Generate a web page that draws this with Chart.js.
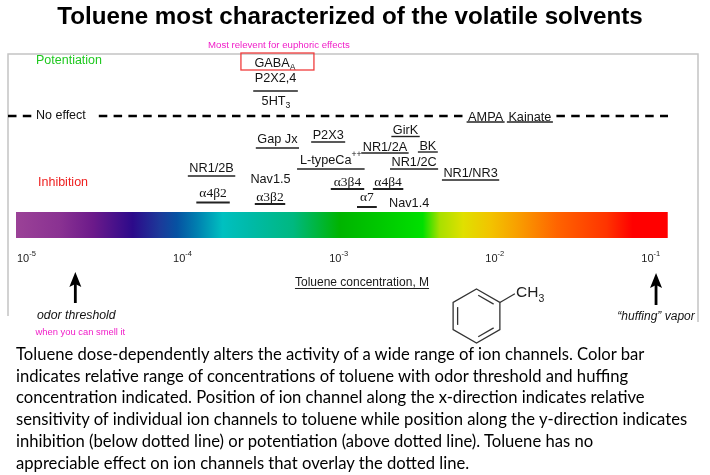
<!DOCTYPE html>
<html><head><meta charset="utf-8">
<script src="https://cdn.jsdelivr.net/npm/chart.js@4.4.0/dist/chart.umd.min.js"></script>
<style>
html,body{margin:0;padding:0;background:#fff;}
#wrap{position:relative;width:710px;height:475px;overflow:hidden;background:#fff;}
#c{position:absolute;left:0;top:0;}
#caption{position:absolute;left:16px;top:344px;white-space:nowrap;font-family:Lato,"Noto Sans",sans-serif;color:#000;}
</style></head>
<body>
<div id="wrap"><canvas id="c" width="710" height="475"></canvas><div id="caption"></div></div>
<script>
// ---------------- data ----------------
const chartTitle = 'Toluene most characterized of the volatile solvents';
const channelNames = ['GABA_A','P2X2,4','5HT_3','AMPA','Kainate','Gap Jx','P2X3','GirK','NR1/2A','BK',
  'L-typeCa^++','NR1/2C','NR1/NR3','NR1/2B','Nav1.5','α4β2','α3β2','α3β4','α4β4','α7','Nav1.4'];
// toluene concentration (M) at which each channel responds
const channelConcM = [4.56e-4,4.6e-4,4.63e-4,1.02e-2,1.96e-2,4.73e-4,1.0e-3,3.13e-3,2.31e-3,4.35e-3,
  1.04e-3,3.55e-3,8.17e-3,1.79e-4,4.27e-4,1.83e-4,4.24e-4,1.33e-3,2.42e-3,1.77e-3,3.30e-3];
// effect level: >0 potentiation, 0 no effect, <0 inhibition
const channelEffect = [5.3,3.8,1.5,-0.1,-0.1,-2.3,-1.9,-1.45,-3.1,-3.0,
  -4.4,-4.6,-5.75,-5.2,-6.3,-7.7,-8.1,-6.6,-6.6,-8.1,-8.75];
const channelUnderlined = [false,true,false,true,true,true,true,true,true,true,
  true,true,true,true,false,true,true,true,true,true,false];
const tickExponents = [-5,-4,-3,-2,-1];
const barRangeM = [1e-5, 0.15];
const barEffect = [-9.6, -12.2];
const odorThresholdM = 2.4e-5;
const huffingVaporM = 0.126;
const captionLines = [
  'Toluene dose-dependently alters the activity of a wide range of ion channels. Color bar',
  'indicates relative range of concentrations of toluene with odor threshold and huffing',
  'concentration indicated. Position of ion channel along the x-direction indicates relative',
  'sensitivity of individual ion channels to toluene while position along the y-direction indicates',
  'inhibition (below dotted line) or potentiation (above dotted line). Toluene has no',
  'appreciable effect on ion channels that overlay the dotted line.'
];

// ---------------- styles ----------------
const barStops = [[0,'#9b4297'],[0.067,'#8a3292'],[0.118,'#6c1a8a'],[0.179,'#2c0a8a'],[0.221,'#1c3a9a'],
  [0.247,'#0652a2'],[0.278,'#0080b0'],[0.317,'#00c0c0'],[0.359,'#00baa8'],[0.425,'#00b880'],
  [0.497,'#00b400'],[0.558,'#00c800'],[0.624,'#00e000'],[0.650,'#a8e000'],[0.686,'#e0e000'],
  [0.727,'#f2c400'],[0.768,'#f8a000'],[0.830,'#ff6400'],[0.906,'#ff3400'],[0.946,'#ff0000'],[1,'#ff0000']];
const SANS = '"Liberation Sans", Arial, sans-serif';
const SERIF = '"Liberation Serif", "Times New Roman", serif';
const underlineDrop = {'P2X2,4':13,'Gap Jx':9,'L-typeCa^++':9,'α4β2':9.5,'α7':10,'AMPA':5,'Kainate':5,'GirK':6,'NR1/2A':6,'BK':6,'NR1/NR3':6.5,'NR1/2B':8};
const underlineExt = {'L-typeCa^++':3,'α4β2':3,'α7':3,'α3β4':3};

// caption
(function(){
  const cap = document.getElementById('caption');
  const m = document.createElement('canvas').getContext('2d');
  m.font = '100px Lato';
  const w = m.measureText(captionLines[3]).width;
  const fs = 100 * 673 / w;
  cap.style.fontSize = fs.toFixed(2) + 'px';
  cap.style.lineHeight = '21.7px';
  cap.innerHTML = captionLines.map(l => '<div>' + l + '</div>').join('');
})();

function parseRich(s){
  const m = s.match(/^(.*?)([_^])(.+)$/);
  if (!m) return [{t:s,k:0}];
  return [{t:m[1],k:0},{t:m[3],k:m[2]==='_'?1:-1}];
}
function drawRich(ctx, s, x, y, family, size, align, style){
  const segs = parseRich(s);
  const pre = style ? style + ' ' : '';
  const fonts = segs.map(sg => pre + (sg.k ? size*0.68 : size) + 'px ' + family);
  const ws = segs.map((sg,i) => { ctx.font = fonts[i]; return ctx.measureText(sg.t).width; });
  const total = ws.reduce((a,b)=>a+b,0);
  let cur = align === 'center' ? x - total/2 : (align === 'right' ? x - total : x);
  const left = cur;
  ctx.textAlign = 'left';
  ctx.textBaseline = 'middle';
  segs.forEach((sg,i) => {
    ctx.font = fonts[i];
    const dy = sg.k === 1 ? size*0.38 : (sg.k === -1 ? -size*0.42 : 0);
    ctx.fillText(sg.t, cur, y + dy);
    cur += ws[i];
  });
  return {left, right: cur};
}

const annotations = {
  id: 'annotations',
  afterDatasetsDraw(chart){
    const ctx = chart.ctx, xs = chart.scales.x, ys = chart.scales.y;
    ctx.save();
    // frame
    ctx.strokeStyle = '#c4c4c4'; ctx.lineWidth = 1.5;
    ctx.beginPath();
    ctx.moveTo(8, 316); ctx.lineTo(8, 54); ctx.lineTo(698, 54); ctx.lineTo(698, 322);
    ctx.stroke();

    // side labels
    ctx.fillStyle = '#1fc81f';
    drawRich(ctx, 'Potentiation', 36, ys.getPixelForValue(5.5), SANS, 12.5, 'left');
    ctx.fillStyle = '#ee2020';
    drawRich(ctx, 'Inhibition', 38, ys.getPixelForValue(-6.7), SANS, 12.5, 'left');
    ctx.fillStyle = '#111';
    const y0 = ys.getPixelForValue(0);
    const ne = drawRich(ctx, 'No effect', 36, y0, SANS, 12.5, 'left');

    // channel labels
    const meta = chart.getDatasetMeta(1);
    const boxes = {};
    channelNames.forEach((name, i) => {
      const el = meta.data[i];
      const greek = /[αβ]/.test(name);
      ctx.fillStyle = '#141414';
      const r = drawRich(ctx, name, el.x, el.y, greek ? SERIF : SANS, greek ? 13.5 : 12.7, 'center');
      boxes[name] = {x: el.x, y: el.y, left: r.left, right: r.right};
      if (channelUnderlined[i]) {
        const d = underlineDrop[name] !== undefined ? underlineDrop[name] : 7;
        const e = underlineExt[name] !== undefined ? underlineExt[name] : 1.5;
        ctx.strokeStyle = '#222';
        ctx.lineWidth = greek ? 2 : 1.4;
        ctx.beginPath();
        ctx.moveTo(r.left - e, el.y + d); ctx.lineTo(r.right + e, el.y + d);
        ctx.stroke();
      }
    });

    // no-effect dashed line
    ctx.strokeStyle = '#000'; ctx.lineWidth = 2.6; ctx.setLineDash([8.5, 6.3]);
    const segs = [[8, ne.left - 3], [ne.right + 13, boxes['AMPA'].left - 3], [boxes['Kainate'].right + 5, 668]];
    segs.forEach(([a,b]) => { ctx.beginPath(); ctx.moveTo(a, y0); ctx.lineTo(b, y0); ctx.stroke(); });
    ctx.setLineDash([]);

    // GABA box + note
    const g = boxes['GABA_A'];
    ctx.strokeStyle = '#f03c3c'; ctx.lineWidth = 1.3;
    ctx.strokeRect(g.x - 34, g.y - 10, 73, 17);
    ctx.fillStyle = '#f01ec8';
    drawRich(ctx, 'Most relevent for euphoric effects', g.x + 4, g.y - 17.5, SANS, 9.6, 'center');

    // tick labels
    ctx.fillStyle = '#222';
    const ty = ys.bottom + 21;
    tickExponents.forEach(e => {
      const px = xs.getPixelForValue(Math.pow(10, e));
      ctx.font = '11px ' + SANS; ctx.textAlign = 'left'; ctx.textBaseline = 'middle';
      ctx.fillText('10', px + 1, ty);
      const w = ctx.measureText('10').width;
      ctx.font = '7.5px ' + SANS;
      ctx.fillText(String(e), px + 1 + w, ty - 5);
    });

    // axis title
    ctx.fillStyle = '#1a1a1a';
    const at = drawRich(ctx, 'Toluene concentration, M', 362, ys.bottom + 45, SANS, 12, 'center');
    ctx.strokeStyle = '#222'; ctx.lineWidth = 1.2;
    ctx.beginPath(); ctx.moveTo(at.left, ys.bottom + 50.5); ctx.lineTo(at.right, ys.bottom + 50.5); ctx.stroke();

    // arrows
    function arrow(x, yTop, yBot){
      ctx.strokeStyle = '#000'; ctx.fillStyle = '#000'; ctx.lineWidth = 2.8;
      ctx.beginPath(); ctx.moveTo(x, yBot); ctx.lineTo(x, yTop + 8); ctx.stroke();
      ctx.beginPath(); ctx.moveTo(x, yTop); ctx.lineTo(x - 6, yTop + 15); ctx.lineTo(x, yTop + 12); ctx.lineTo(x + 6, yTop + 15); ctx.closePath(); ctx.fill();
    }
    const ox = xs.getPixelForValue(odorThresholdM);
    const hx = xs.getPixelForValue(huffingVaporM);
    arrow(ox, ys.bottom + 34, ys.bottom + 65);
    arrow(hx, ys.bottom + 35, ys.bottom + 67);
    ctx.fillStyle = '#111';
    drawRich(ctx, 'odor threshold', ox + 1, ys.bottom + 78, SANS, 12.3, 'center', 'italic');
    drawRich(ctx, '\u201Chuffing\u201D vapor', hx, ys.bottom + 79, SANS, 12, 'center', 'italic');
    ctx.fillStyle = '#f01ec8';
    drawRich(ctx, 'when you can smell it', ox + 5, ys.bottom + 94, SANS, 9.4, 'center');

    // toluene structure
    const cx = 476.5, cy = 316, R = 27;
    const v = [];
    for (let k = 0; k < 6; k++) { const a = (-90 + 60*k) * Math.PI/180; v.push([cx + R*Math.cos(a), cy + R*Math.sin(a)]); }
    ctx.strokeStyle = '#333'; ctx.lineWidth = 1.3;
    ctx.beginPath(); v.forEach((p,k) => k ? ctx.lineTo(p[0],p[1]) : ctx.moveTo(p[0],p[1])); ctx.closePath(); ctx.stroke();
    [[0,1],[2,3],[4,5]].forEach(([a,b]) => {
      const p = v[a], q = v[b];
      const mx = (p[0]+q[0])/2, my = (p[1]+q[1])/2;
      const nx = (cx - mx), ny = (cy - my), nl = Math.hypot(nx,ny);
      const ox2 = nx/nl*4.5, oy2 = ny/nl*4.5;
      const s = 0.17;
      ctx.beginPath();
      ctx.moveTo(p[0] + (q[0]-p[0])*s + ox2, p[1] + (q[1]-p[1])*s + oy2);
      ctx.lineTo(q[0] - (q[0]-p[0])*s + ox2, q[1] - (q[1]-p[1])*s + oy2);
      ctx.stroke();
    });
    ctx.beginPath(); ctx.moveTo(v[1][0], v[1][1]); ctx.lineTo(v[1][0] + 15, v[1][1] - 8.7); ctx.stroke();
    ctx.fillStyle = '#222';
    drawRich(ctx, 'CH_3', 516, 293, SANS, 15.5, 'left');
    ctx.restore();
  }
};

new Chart(document.getElementById('c'), {
  type: 'scatter',
  data: {
    datasets: [
      {
        type: 'line',
        label: 'Toluene concentration range',
        data: [{x: barRangeM[0], y: barEffect[0]}, {x: barRangeM[1], y: barEffect[0]}],
        fill: {value: barEffect[1]},
        borderColor: 'rgba(0,0,0,0)', borderWidth: 0, pointRadius: 0,
        backgroundColor: (c) => {
          const ch = c.chart, xs = ch.scales.x;
          if (!ch.chartArea || !xs) return 'rgba(0,0,0,0)';
          const x0 = xs.getPixelForValue(barRangeM[0]), x1 = xs.getPixelForValue(barRangeM[1]);
          const g = ch.ctx.createLinearGradient(x0, 0, x1, 0);
          barStops.forEach(([p,col]) => g.addColorStop(p, col));
          return g;
        }
      },
      {
        label: 'Ion channels',
        data: channelNames.map((n,i) => ({x: channelConcM[i], y: channelEffect[i]})),
        pointRadius: 0, pointHoverRadius: 0
      }
    ]
  },
  options: {
    responsive: false, animation: false, events: [],
    layout: {padding: {left: 0, right: 10, top: 0, bottom: 237}},
    scales: {
      x: {type: 'logarithmic', min: 7.9e-6, max: 0.241, display: false},
      y: {type: 'linear', min: -12.2, max: 6.2, display: false}
    },
    plugins: {
      legend: {display: false},
      tooltip: {enabled: false},
      title: {display: true, text: chartTitle, color: '#000',
        font: {family: SANS, size: 24.2, weight: 'bold', lineHeight: 1.2},
        padding: {top: 3, bottom: 21.96}}
    }
  },
  plugins: [annotations]
});
</script>
</body></html>
